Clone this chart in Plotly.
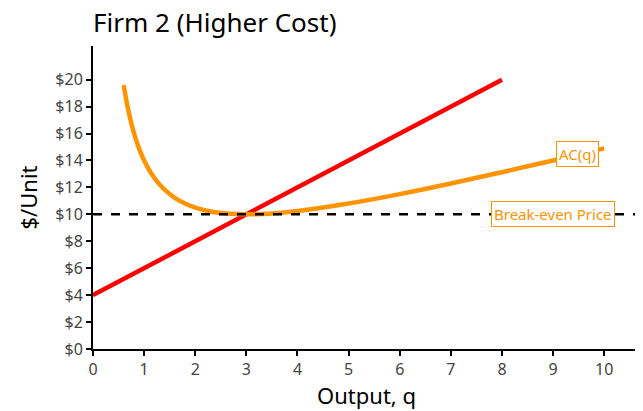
import plotly.graph_objects as go

ORANGE = "#FF9300"
RED = "#FF0000"
FONT = "Noto Sans"

# average cost curve
q_ac = [0.6, 0.7, 0.8, 0.9, 1.0, 1.2, 1.4, 1.6, 1.8, 2.0, 2.3, 2.6, 3.0,
        3.5, 4.0, 5.0, 6.0, 7.0, 8.0, 9.0, 10.0]
ac = [19.6, 17.56, 16.05, 14.9, 14.0, 12.7, 11.83, 11.23, 10.8, 10.5, 10.21,
      10.06, 10.0, 10.07, 10.25, 10.8, 11.5, 12.29, 13.13, 14.0, 14.9]

# marginal cost line
q_mc = [0, 8]
mc = [4, 20]

breakeven = 10
y_ticks = list(range(0, 21, 2))
x_ticks = list(range(0, 11))

fig = go.Figure()

fig.add_hline(y=breakeven, line=dict(color="black", width=2.5, dash="dash"))

fig.add_trace(go.Scatter(x=q_mc, y=mc, mode="lines",
                         line=dict(color=RED, width=4.5)))
fig.add_trace(go.Scatter(x=q_ac, y=ac, mode="lines",
                         line=dict(color=ORANGE, width=4.5, shape="spline")))

label = dict(showarrow=False, bgcolor="white", bordercolor=ORANGE,
             borderwidth=1, borderpad=2,
             font=dict(family=FONT, size=15, color=ORANGE))
fig.add_annotation(x=9.48, y=14.45, text="AC(q)", **label)
fig.add_annotation(x=9.0, y=breakeven, text="Break-even Price", **label)

# page body has an 8px margin, so the figure is a bit smaller than the window
fig.update_layout(
    width=635, height=403,
    plot_bgcolor="white", paper_bgcolor="white",
    showlegend=False,
    margin=dict(l=85, r=3, t=38, b=62, autoexpand=False),
    font=dict(family=FONT, size=16, color="#444"),
    title=dict(text="Firm 2 (Higher Cost)", x=0, xref="paper",
               xanchor="left", y=0.962, yanchor="middle",
               font=dict(family=FONT, size=26, color="black")),
)
fig.update_xaxes(
    range=[0, 10.7], tickvals=x_ticks, showgrid=False, zeroline=False,
    showline=True, linecolor="black", linewidth=2, automargin=False,
    ticks="outside", tickcolor="black", ticklen=5, tickwidth=1.5,
    title=dict(text="Output, q", font=dict(size=22, color="black"),
               standoff=1),
)
fig.update_yaxes(
    range=[0, 22.5], tickvals=y_ticks, automargin=False,
    ticktext=[f"${v}" for v in y_ticks], showgrid=False, zeroline=False,
    showline=True, linecolor="black", linewidth=2,
    ticks="outside", tickcolor="black", ticklen=5, tickwidth=1.5,
    title=dict(text="$/Unit", font=dict(size=22, color="black"),
               standoff=12),
)

fig.write_html("out.html")
